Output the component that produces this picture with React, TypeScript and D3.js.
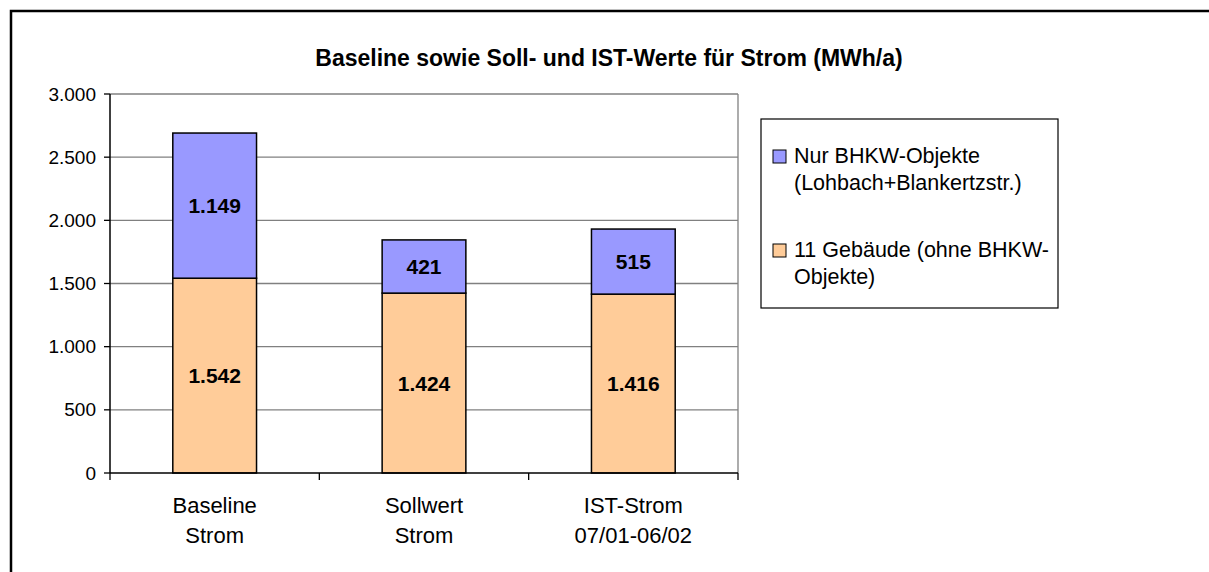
import React from 'react';
import * as d3 from 'd3';

// values (MWh/a)
const categories: string[][] = [['Baseline', 'Strom'], ['Sollwert', 'Strom'], ['IST-Strom', '07/01-06/02']];
const gebaeude: number[] = [1542, 1424, 1416];
const bhkw: number[] = [1149, 421, 515];
const yTicks: number[] = [0, 500, 1000, 1500, 2000, 2500, 3000];
const seriesNames: string[][] = [
	['Nur BHKW-Objekte', '(Lohbach+Blankertzstr.)'],
	['11 Gebäude (ohne BHKW-', 'Objekte)'],
];

const W = 1209;
const H = 572;
const blue = '#9999FF';
const orange = '#FFCC99';
const font = '"Liberation Sans", Arial, sans-serif';
const plot = { left: 110, right: 738, top: 94, bottom: 473 };

const fmt = (v: number) => d3.format(',')(v).replace(/,/g, '.');

const App: React.FC = () => {
	const keys = categories.map((c) => c.join(' '));
	const x = d3.scaleBand().domain(keys).range([plot.left, plot.right]).paddingInner(0.6).paddingOuter(0.3);
	const y = d3.scaleLinear().domain([0, 3000]).range([plot.bottom, plot.top]);
	const step = x.step();
	const catEdges = d3.range(categories.length + 1).map((i) => plot.left + i * step);

	return (
		<svg width={W} height={H} style={{ position: 'absolute', left: 0, top: 0, background: '#fff' }} fontFamily={font}>
			<rect x={11} y={11} width={1400} height={800} fill="none" stroke="#000" strokeWidth={2.5} />

			<text x={609} y={66} textAnchor="middle" fontSize={23} fontWeight="bold">
				Baseline sowie Soll- und IST-Werte für Strom (MWh/a)
			</text>

			{/* grid */}
			{yTicks.filter((t) => t > 0).map((t) => (
				<line key={'g' + t} x1={plot.left} x2={plot.right} y1={y(t)} y2={y(t)} stroke="#808080" strokeWidth={1.3} />
			))}
			<line x1={plot.right} x2={plot.right} y1={plot.top} y2={plot.bottom} stroke="#808080" strokeWidth={1.3} />

			{/* bars */}
			{keys.map((k, i) => {
				const bx = x(k) as number;
				const bw = x.bandwidth();
				const y0 = y(0);
				const y1 = y(gebaeude[i]);
				const y2 = y(gebaeude[i] + bhkw[i]);
				return (
					<g key={k}>
						<rect x={bx} y={y1} width={bw} height={y0 - y1} fill={orange} stroke="#000" strokeWidth={1.5} />
						<rect x={bx} y={y2} width={bw} height={y1 - y2} fill={blue} stroke="#000" strokeWidth={1.5} />
						<text x={bx + bw / 2} y={y(gebaeude[i] / 2) + 7.5} textAnchor="middle" fontSize={21} fontWeight="bold">
							{fmt(gebaeude[i])}
						</text>
						<text x={bx + bw / 2} y={y(gebaeude[i] + bhkw[i] / 2) + 7.5} textAnchor="middle" fontSize={21} fontWeight="bold">
							{fmt(bhkw[i])}
						</text>
					</g>
				);
			})}

			{/* y axis */}
			<line x1={plot.left} x2={plot.left} y1={plot.top} y2={plot.bottom} stroke="#000" strokeWidth={1.5} />
			{yTicks.map((t) => (
				<g key={'y' + t}>
					<line x1={plot.left - 6} x2={plot.left} y1={y(t)} y2={y(t)} stroke="#000" strokeWidth={1.3} />
					<text x={96} y={y(t) + 6.5} textAnchor="end" fontSize={19}>
						{fmt(t)}
					</text>
				</g>
			))}

			{/* x axis */}
			<line x1={plot.left} x2={plot.right} y1={plot.bottom} y2={plot.bottom} stroke="#000" strokeWidth={1.5} />
			{catEdges.map((e, i) => (
				<line key={'xt' + i} x1={e} x2={e} y1={plot.bottom} y2={plot.bottom + 7} stroke="#000" strokeWidth={1.3} />
			))}
			{categories.map((c, i) => (
				<text key={'c' + i} x={(x(keys[i]) as number) + x.bandwidth() / 2} textAnchor="middle" fontSize={22}>
					<tspan x={(x(keys[i]) as number) + x.bandwidth() / 2} y={513}>{c[0]}</tspan>
					<tspan x={(x(keys[i]) as number) + x.bandwidth() / 2} y={543}>{c[1]}</tspan>
				</text>
			))}

			{/* legend */}
			<rect x={761} y={119} width={297} height={189} fill="#fff" stroke="#000" strokeWidth={1.2} />
			{seriesNames.map((lines, i) => (
				<g key={'l' + i} transform={`translate(0,${i * 94})`}>
					<rect x={773} y={150} width={13} height={13} fill={i === 0 ? blue : orange} stroke="#000" strokeWidth={1} />
					<text fontSize={21.5}>
						<tspan x={794} y={163}>{lines[0]}</tspan>
						<tspan x={794} y={190}>{lines[1]}</tspan>
					</text>
				</g>
			))}
		</svg>
	);
};

export default App;
